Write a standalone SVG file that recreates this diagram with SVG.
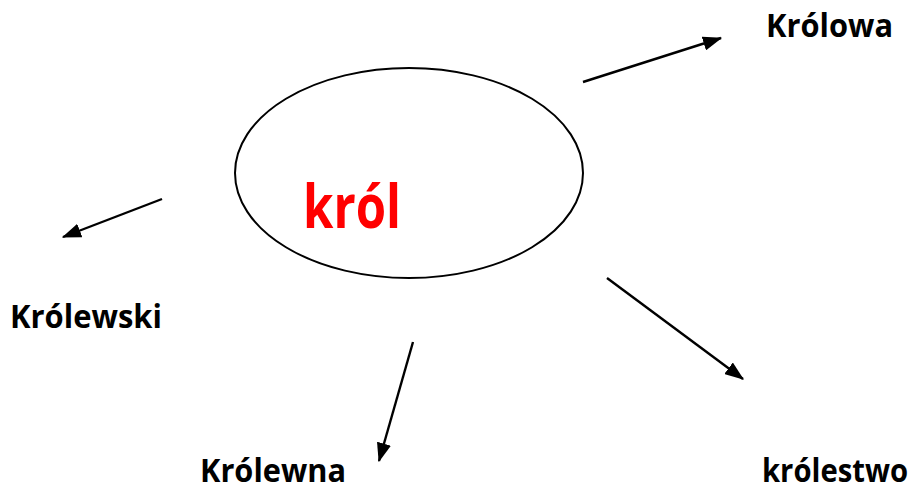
<svg xmlns="http://www.w3.org/2000/svg" width="923" height="491" viewBox="0 0 923 491">
<defs>
<marker id="ah" markerWidth="8" markerHeight="6" refX="7.5" refY="3" orient="auto" markerUnits="strokeWidth">
<path d="M0,0 L8,3 L0,6 Z" fill="#000"/>
</marker>
</defs>
<style>
.lbl{font-family:"Open Sans","Liberation Sans",sans-serif;font-weight:bold;font-size:32px;fill:#000}
.main{font-family:"Open Sans","Liberation Sans",sans-serif;font-weight:bold;font-size:60px;fill:#ff0000}
.cn{stroke:#000;stroke-width:2.4;fill:none;marker-end:url(#ah)}
</style>
<rect width="923" height="491" fill="#fff"/>
<g id="center">
<ellipse cx="409" cy="173" rx="174" ry="105" fill="none" stroke="#000" stroke-width="2"/>
<text class="main" x="303" y="228" textLength="98" lengthAdjust="spacingAndGlyphs">król</text>
</g>
<g id="krolowa"><text class="lbl" x="766" y="37" textLength="127" lengthAdjust="spacingAndGlyphs">Królowa</text></g>
<g id="krolewski"><text class="lbl" x="10" y="328" textLength="152" lengthAdjust="spacingAndGlyphs">Królewski</text></g>
<g id="krolewna"><text class="lbl" x="200" y="482" textLength="146" lengthAdjust="spacingAndGlyphs">Królewna</text></g>
<g id="krolestwo"><text class="lbl" x="762" y="482" textLength="146" lengthAdjust="spacingAndGlyphs">królestwo</text></g>
<g id="connectors">
<line class="cn" x1="583" y1="82" x2="721" y2="38"/>
<line class="cn" x1="162" y1="199" x2="63" y2="237"/>
<line class="cn" x1="413" y1="342" x2="379" y2="461"/>
<line class="cn" x1="607" y1="278" x2="743" y2="379"/>
</g>
</svg>
